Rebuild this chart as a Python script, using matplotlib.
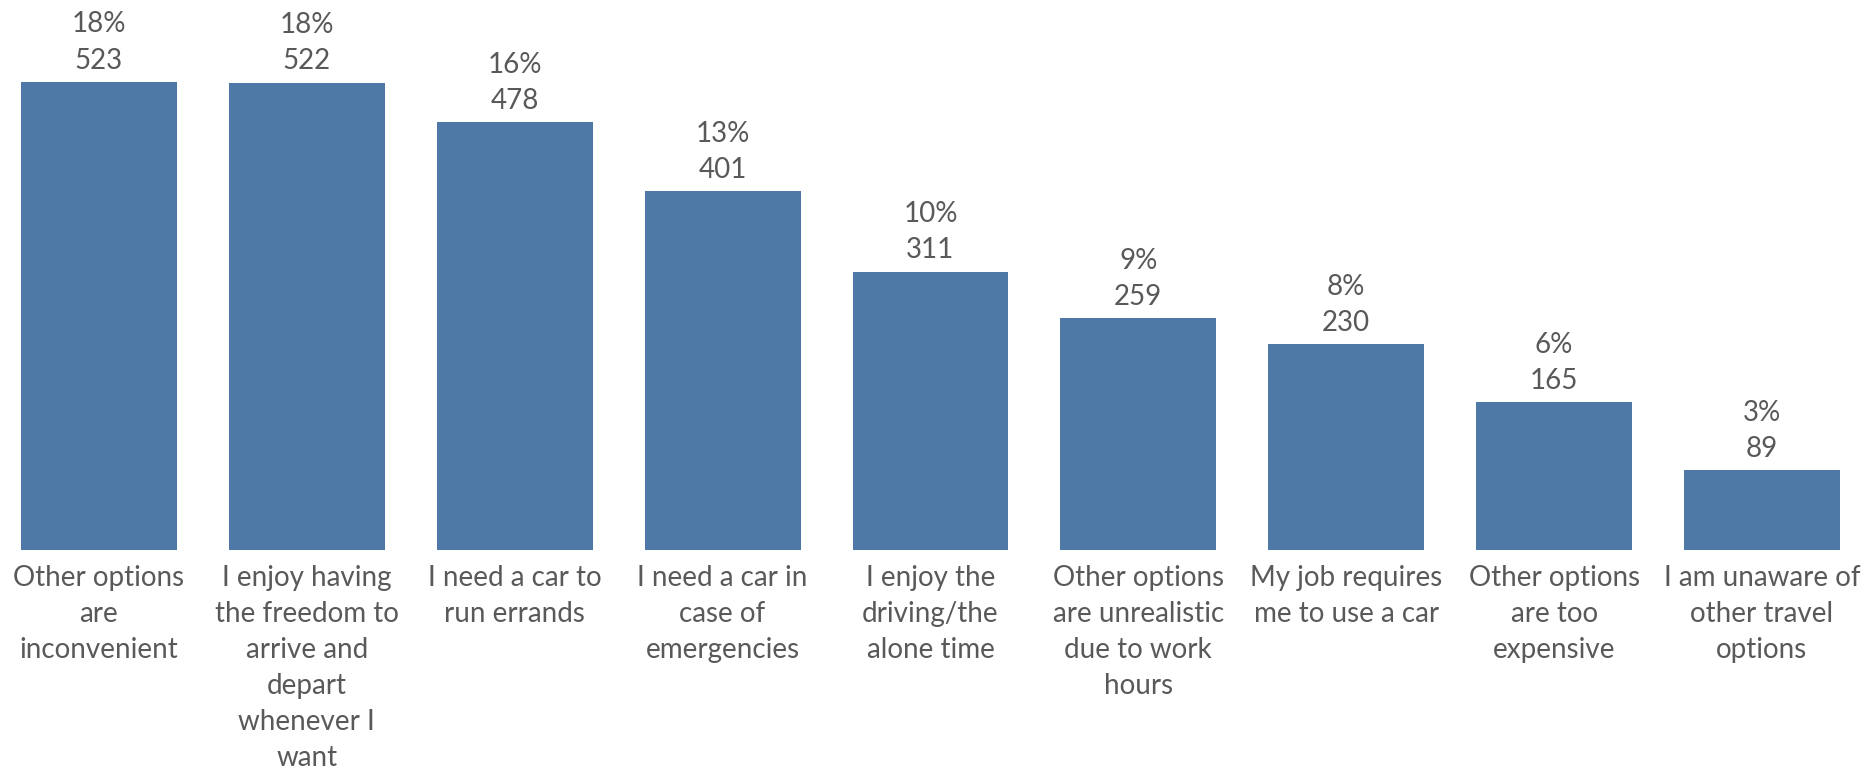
import matplotlib
matplotlib.use("Agg")
import matplotlib.pyplot as plt
import numpy as np

plt.rcParams['font.family'] = ['Lato', 'DejaVu Sans']

categories = [
    "Other options\nare\ninconvenient",
    "I enjoy having\nthe freedom to\narrive and\ndepart\nwhenever I\nwant",
    "I need a car to\nrun errands",
    "I need a car in\ncase of\nemergencies",
    "I enjoy the\ndriving/the\nalone time",
    "Other options\nare unrealistic\ndue to work\nhours",
    "My job requires\nme to use a car",
    "Other options\nare too\nexpensive",
    "I am unaware of\nother travel\noptions",
]
counts = [523, 522, 478, 401, 311, 259, 230, 165, 89]
percents = ["18%", "18%", "16%", "13%", "10%", "9%", "8%", "6%", "3%"]

BAR_COLOR = "#4E79A6"
TEXT_COLOR = "#595959"

fig = plt.figure(figsize=(18.68, 7.74), dpi=100)
ax = fig.add_axes([0, 224 / 774, 1, 550 / 774])

x = np.arange(len(counts))
ax.bar(x, counts, width=0.75, color=BAR_COLOR)

ax.set_xlim(-0.476, 8.51)
ax.set_ylim(0, 614.5)

# percent and count stacked above each bar
for xi, c, p in zip(x, counts, percents):
    ax.annotate(f"{p}\n{c}", (xi, c), xytext=(0, 6), textcoords="offset points",
                ha="center", va="bottom", fontsize=20, color=TEXT_COLOR,
                linespacing=1.48)

for xi, lab in zip(x, categories):
    ax.annotate(lab, (xi, 0), xytext=(0, -11), textcoords="offset points",
                ha="center", va="top", fontsize=20, color=TEXT_COLOR,
                linespacing=1.47, annotation_clip=False)

ax.axis("off")
fig.savefig("out.png", dpi=100)
